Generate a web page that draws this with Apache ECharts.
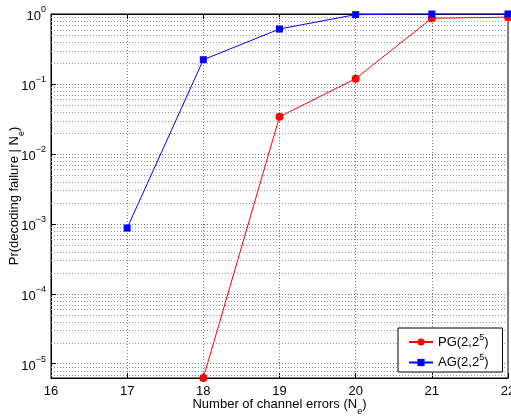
<!DOCTYPE html>
<html>
<head>
<meta charset="utf-8">
<script src="https://cdn.jsdelivr.net/npm/echarts@6/dist/echarts.min.js"></script>
<style>
html, body { margin: 0; padding: 0; background: #fff; }
#main { width: 511px; height: 417px; }
</style>
</head>
<body>
<div id="main"></div>
<script>
// number of channel errors
var pgErrors = [18, 19, 20, 21, 22];
var agErrors = [17, 18, 19, 20, 21, 22];
// Pr(decoding failure | Ne)
var pgProb = [6.25e-6, 0.034, 0.119, 0.87, 0.9];
var agProb = [8.7e-4, 0.222, 0.61, 0.98, 1, 1];
var seriesNames = ['PG(2,2^5)', 'AG(2,2^5)'];
var xTicks = [16, 17, 18, 19, 20, 21, 22];
var yMin = 6.25e-6, yMax = 1;
// minor log grid: 2..9 x 10^k
var minorMult = [2, 3, 4, 5, 6, 7, 8, 9];
var minorExp = [-6, -5, -4, -3, -2, -1];

var font = 'Liberation Sans, Arial, Helvetica, sans-serif';

var minorLines = [];
minorExp.forEach(function (e) {
    minorMult.forEach(function (m) {
        var v = m * Math.pow(10, e);
        if (v > yMin && v < yMax) minorLines.push([16, v]);
    });
});

function pairs(xs, ys) {
    return xs.map(function (x, i) { return [x, ys[i]]; });
}

var supStyle = { fontSize: 9, fontFamily: font, lineHeight: 18, verticalAlign: 'top', color: '#000' };
var subStyle = { fontSize: 9, fontFamily: font, lineHeight: 18, verticalAlign: 'bottom', color: '#000' };

var myChart = echarts.init(document.getElementById('main'));

var option = {
    backgroundColor: '#fff',
    animation: false,
    textStyle: { fontFamily: font },
    grid: {
        left: 51, right: 3, top: 14, bottom: 39,
        outerBoundsMode: 'none',
        containLabel: false,
        show: true, borderColor: '#000', borderWidth: 1
    },
    legend: {
        orient: 'vertical',
        left: 398, top: 328,
        padding: [5, 14, 3, 10],
        itemWidth: 24, itemHeight: 9, itemGap: 5,
        backgroundColor: '#fff',
        borderColor: '#000', borderWidth: 1, borderRadius: 0,
        data: seriesNames,
        formatter: function (n) { return n.replace('^5', '{sup|5}'); },
        textStyle: {
            fontFamily: font, fontSize: 13, color: '#000',
            rich: {
                sup: supStyle
            }
        }
    },
    xAxis: [{
        type: 'value',
        min: 16, max: 22, interval: 1,
        name: '{b|Number of channel errors (N}{sub|e}{b|)}',
        nameLocation: 'middle', nameGap: 20, nameMoveOverlap: false,
        nameTextStyle: {
            fontFamily: font, fontSize: 13, color: '#000', verticalAlign: 'top',
            rich: {
                b: { fontSize: 13, fontFamily: font, lineHeight: 14, verticalAlign: 'top', color: '#000' },
                sub: subStyle
            }
        },
        axisLine: { show: true, lineStyle: { color: '#000', width: 1 } },
        axisTick: { show: true, inside: true, length: 5, lineStyle: { color: '#000' } },
        axisLabel: {
            fontFamily: font, fontSize: 13, color: '#000', margin: 7,
            showMinLabel: true, showMaxLabel: true, hideOverlap: false,
            formatter: function (v) { return xTicks.indexOf(v) >= 0 ? String(v) : ''; }
        },
        splitLine: { show: true, lineStyle: { color: '#777', type: [1, 2], width: 1 } }
    }, {
        type: 'value',
        position: 'top',
        min: 16, max: 22, interval: 1,
        axisLine: { show: true, lineStyle: { color: '#000', width: 1 } },
        axisTick: { show: true, inside: true, length: 5, lineStyle: { color: '#000' } },
        axisLabel: { show: false },
        splitLine: { show: false }
    }],
    yAxis: {
        type: 'log',
        logBase: 10,
        min: yMin, max: yMax,
        name: '{b|Pr(decoding failure | N}{sub|e}{b|)}',
        nameLocation: 'middle', nameGap: 25, nameMoveOverlap: false,
        nameTextStyle: {
            fontFamily: font, fontSize: 13, color: '#000',
            rich: {
                b: { fontSize: 13, fontFamily: font, lineHeight: 14, verticalAlign: 'top', color: '#000' },
                sub: subStyle
            }
        },
        axisLine: { show: true, lineStyle: { color: '#000', width: 1 } },
        axisTick: { show: true, inside: true, length: 5, lineStyle: { color: '#000' } },
        axisLabel: {
            fontFamily: font, color: '#000', margin: 5,
            showMinLabel: false, hideOverlap: false,
            formatter: function (v) {
                var e = Math.log10(v);
                if (Math.abs(e - Math.round(e)) > 1e-6) return '';
                e = Math.round(e);
                return '{b|10}{sup|' + (e === 0 ? '0' : '\u2212' + (-e)) + '}';
            },
            rich: {
                b: { fontSize: 13, fontFamily: font, lineHeight: 13, verticalAlign: 'bottom', color: '#000' },
                sup: supStyle
            }
        },
        splitLine: { show: true, lineStyle: { color: '#777', type: [1, 2], width: 1 } }
    },
    series: [{
        // minor log grid lines drawn through the y scale
        type: 'custom',
        silent: true,
        z: 1,
        data: minorLines,
        renderItem: function (params, api) {
            var p = api.coord([api.value(0), api.value(1)]);
            var cs = params.coordSys;
            var y = Math.round(p[1]) + 0.5;
            return {
                type: 'line',
                shape: { x1: cs.x, y1: y, x2: cs.x + cs.width, y2: y },
                style: { stroke: '#999', lineDash: [1, 2], lineWidth: 1 }
            };
        }
    }, {
        name: seriesNames[0],
        type: 'line',
        data: pairs(pgErrors, pgProb),
        symbol: 'circle', symbolSize: 8,
        lineStyle: { color: '#ff0000', width: 1 },
        itemStyle: { color: '#ff0000' },
        z: 3
    }, {
        name: seriesNames[1],
        type: 'line',
        data: pairs(agErrors, agProb),
        symbol: 'rect', symbolSize: 7,
        lineStyle: { color: '#0000ff', width: 1 },
        itemStyle: { color: '#0000ff' },
        z: 3
    }]
};

myChart.setOption(option);
</script>
</body>
</html>
